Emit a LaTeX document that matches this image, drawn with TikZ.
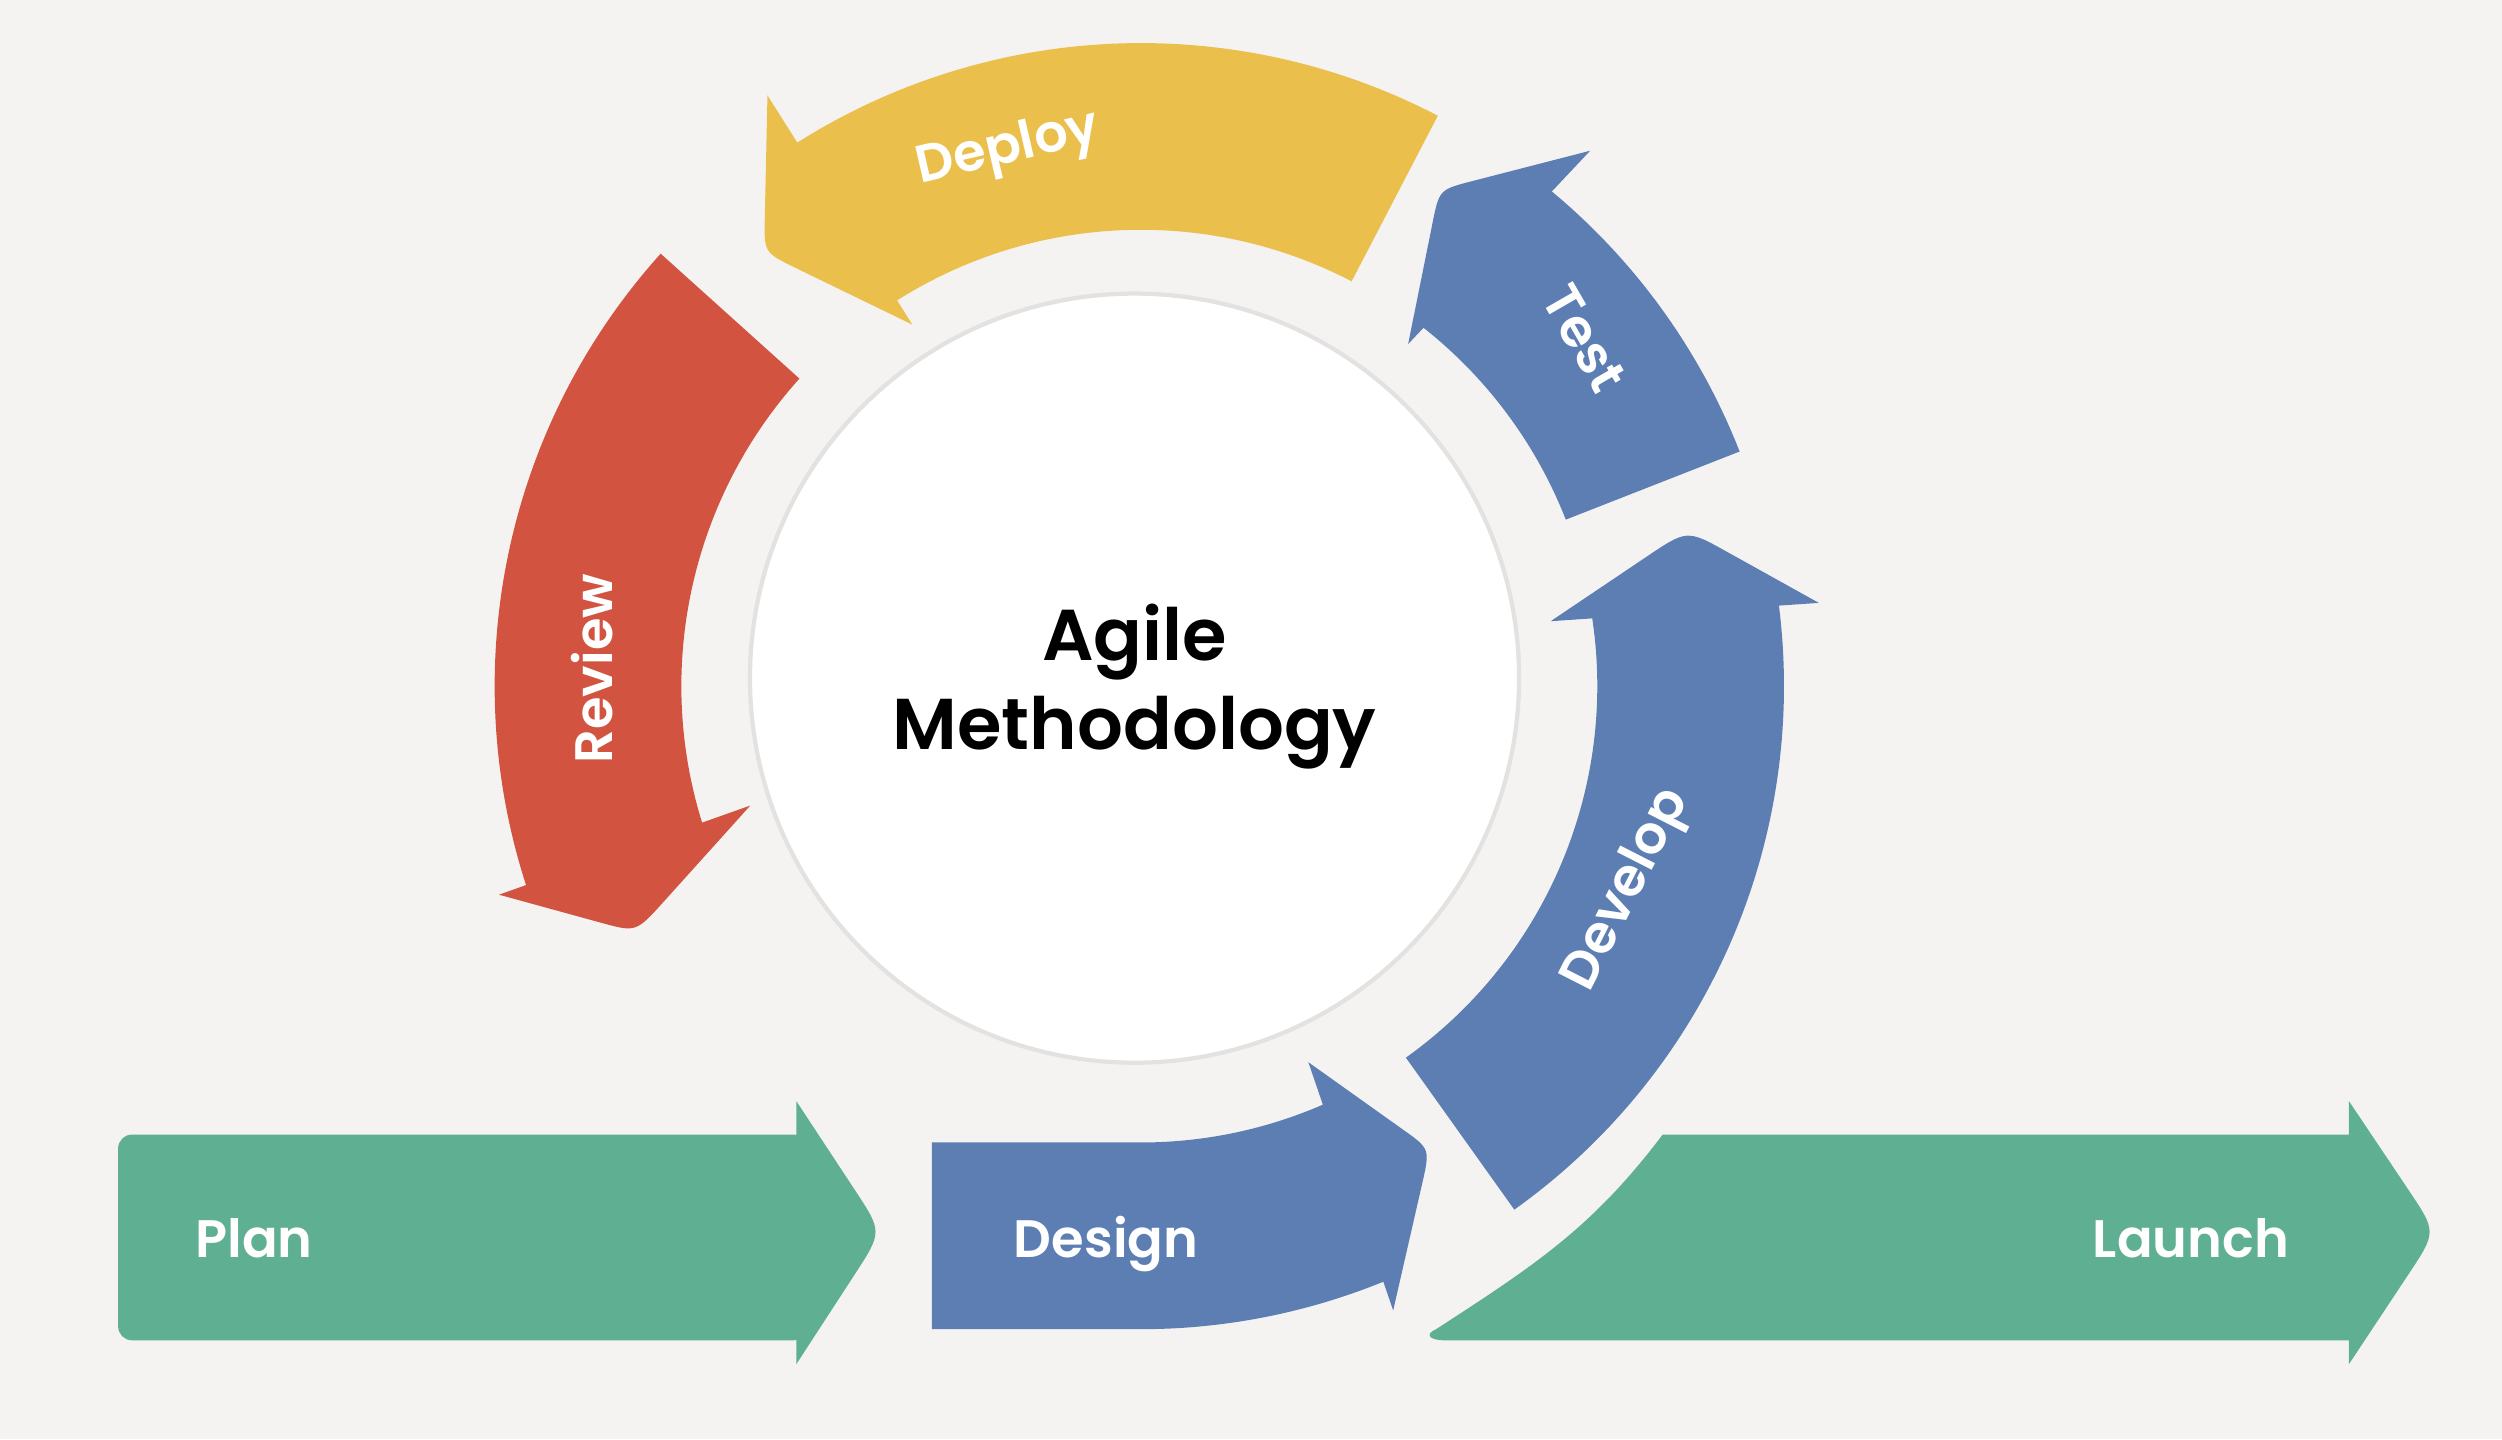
\documentclass[tikz,border=0pt]{standalone}
\usepackage{fontspec}
\setmainfont{Poppins}[BoldFont={Poppins SemiBold}]
\usetikzlibrary{calc}
\definecolor{bgc}{HTML}{F4F3F1}
\definecolor{yellowc}{HTML}{EBBF4B}
\definecolor{bluec}{HTML}{5C7EB3}
\definecolor{redc}{HTML}{D2533F}
\definecolor{greenc}{HTML}{5FB093}
\definecolor{rimc}{HTML}{E4E2E0}
\tikzset{
  lbl/.style={text=white, font=\bfseries\fontsize{15}{18}\selectfont, inner sep=0pt},
  ttl/.style={text=black, font=\bfseries\fontsize{20.5}{24}\selectfont, inner sep=0pt},
}
% arrow head: #1 colour, #2 inner barb, #3 tip, #4 outer barb, #5 rounding fraction
\newcommand\ringhead[5]{%
  \fill[#1] (#2) -- ($(#3)!#5!(#2)$) .. controls (#3) .. ($(#3)!#5!(#4)$) -- (#4) -- cycle;}
\begin{document}
\begin{tikzpicture}[x=0.015957cm, y=0.015957cm]
\useasboundingbox (0,0) rectangle (1568,902);
\fill[bgc] (0,0) rectangle (1568,902);

% centre circle
\node[circle, draw=rimc, line width=1.2pt, fill=white, minimum size=482*0.015957cm, inner sep=0pt] (hub) at (711,477) {};

% ring arrows around ring centre
\begin{scope}[shift={(715,472)}]
  % Deploy
  \fill[yellowc] (62.5:286) arc[start angle=62.5, end angle=123.5, radius=286]
     -- (123.5:403) arc[start angle=123.5, end angle=62.5, radius=403] -- cycle;
  \ringhead{yellowc}{122.3:268}{131:360}{122.3:438}{0.22}
  % Test
  \fill[bluec] (21.4:286) arc[start angle=21.4, end angle=53, radius=286]
     -- (51:403) arc[start angle=51, end angle=21.4, radius=403] -- cycle;
  \ringhead{bluec}{52:272}{59:363}{50:438}{0.22}
  % Develop
  \fill[bluec] (-54.5:286) arc[start angle=-54.5, end angle=10, radius=286]
     -- (8:403) arc[start angle=8, end angle=-54.5, radius=403] -- cycle;
  \ringhead{bluec}{9:260}{16:356}{7:428}{0.3}
  % Review
  \fill[redc] (138:288) arc[start angle=138, end angle=198, radius=288]
     -- (199:405) arc[start angle=199, end angle=138, radius=405] -- cycle;
  \ringhead{redc}{197:256}{206:352}{198:423}{0.25}
  % Design
  \fill[bluec] (-131,-286) -- (-90:286) arc[start angle=-90, end angle=-65, radius=286]
     -- (-66.5:403) arc[start angle=-66.5, end angle=-90, radius=403] -- (-131,-403) -- cycle;
  \ringhead{bluec}{-66:258}{-58:342}{-68:422}{0.22}
\end{scope}

% Plan
\fill[greenc, rounded corners=4pt] (74,62) rectangle (506,191);
\ringhead{greenc}{499,212}{553,130}{499,47}{0.32}
% Launch
\fill[greenc] (1042,191) -- (1479,191) -- (1479,62) -- (906,62)
   .. controls (895,62) and (893,66) .. (900,69) to[out=33,in=233] (1042,191) -- cycle;
\ringhead{greenc}{1472,212}{1527,130}{1472,47}{0.32}

% texts
\node[ttl, anchor=base] (agile) at (711,488) {Agile};
\node[ttl, anchor=base] (meth) at (711,432) {Methodology};
\node[lbl, anchor=base west] (plan) at (122,114) {Plan};
\node[lbl, anchor=base west] (design) at (635,114) {Design};
\node[lbl, anchor=base east] (launch) at (1435,114) {Launch};
\node[lbl, rotate=13] (deploy) at (632,808) {Deploy};
\node[lbl, rotate=-60] (test) at (993,690) {Test};
\node[lbl, rotate=63] (develop) at (1020,344) {Develop};
\node[lbl, rotate=90] (review) at (371,483) {Review};
\end{tikzpicture}
\end{document}
